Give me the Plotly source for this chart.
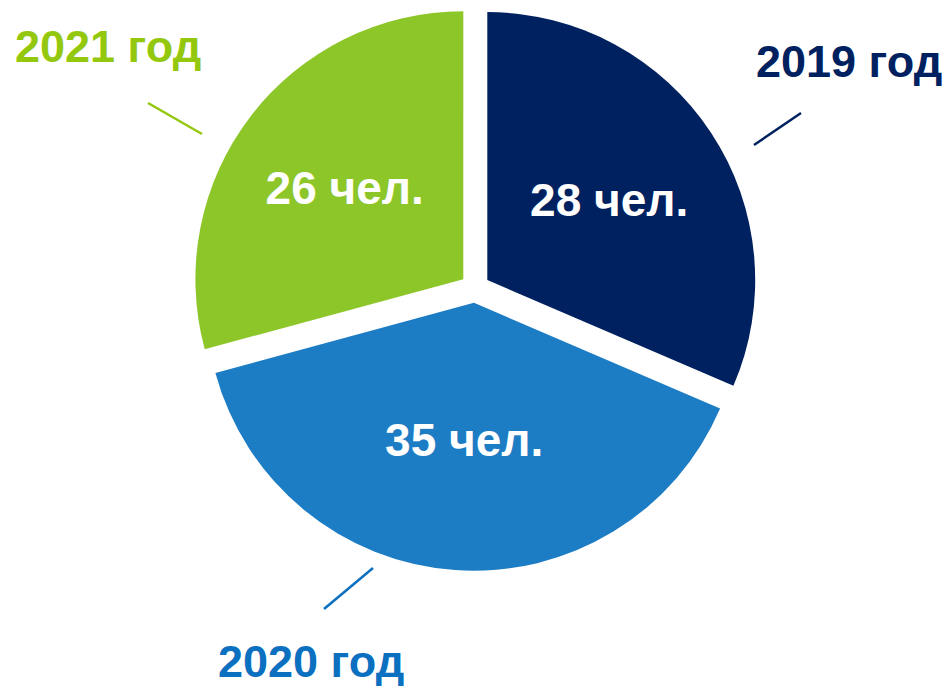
import plotly.graph_objects as go

years = ["2019 год", "2020 год", "2021 год"]
values = [28, 35, 26]
value_labels = ["28 чел.", "35 чел.", "26 чел."]
slice_colors = ["#00215F", "#1C7CC4", "#8DC629"]
label_colors = ["#00215F", "#0B70C0", "#94C80E"]

FONT = "Liberation Sans Narrow, Arial Narrow, Liberation Sans, Arial, sans-serif"

fig = go.Figure()
fig.add_trace(go.Pie(
    labels=years,
    values=values,
    text=value_labels,
    textinfo="text",
    textposition="inside",
    insidetextorientation="horizontal",
    insidetextfont=dict(family=FONT, size=46, color="white", weight="bold"),
    marker=dict(colors=slice_colors, line=dict(width=0)),
    sort=False,
    direction="clockwise",
    rotation=0,
    pull=[0.055, 0.055, 0.055],
    domain=dict(x=[0, 1], y=[0.168, 0.992]),
    showlegend=False,
    hoverinfo="label+value",
))

# outside year labels: (x px, y px, anchor)
label_pos = [(944, 61, "right"), (311, 661, "center"), (13, 47, "left")]
for txt, col, (px, py, anc) in zip(years, label_colors, label_pos):
    fig.add_annotation(
        text=txt, x=px / 950, y=1 - py / 686, xref="paper", yref="paper",
        showarrow=False, xanchor=anc, yanchor="middle",
        font=dict(family=FONT, size=45, color=col, weight="bold"),
    )

# leader lines
leader = [((754, 145), (801, 113)), ((324, 609), (373, 568)), ((148, 103), (202, 134))]
for col, ((x0, y0), (x1, y1)) in zip(label_colors, leader):
    fig.add_shape(type="line", xref="paper", yref="paper",
                  x0=x0 / 950, y0=1 - y0 / 686, x1=x1 / 950, y1=1 - y1 / 686,
                  line=dict(color=col, width=2.5))

fig.update_layout(
    width=950, height=686,
    margin=dict(l=0, r=0, t=0, b=0),
    paper_bgcolor="white",
    plot_bgcolor="white",
)

fig.write_html("out.html")
